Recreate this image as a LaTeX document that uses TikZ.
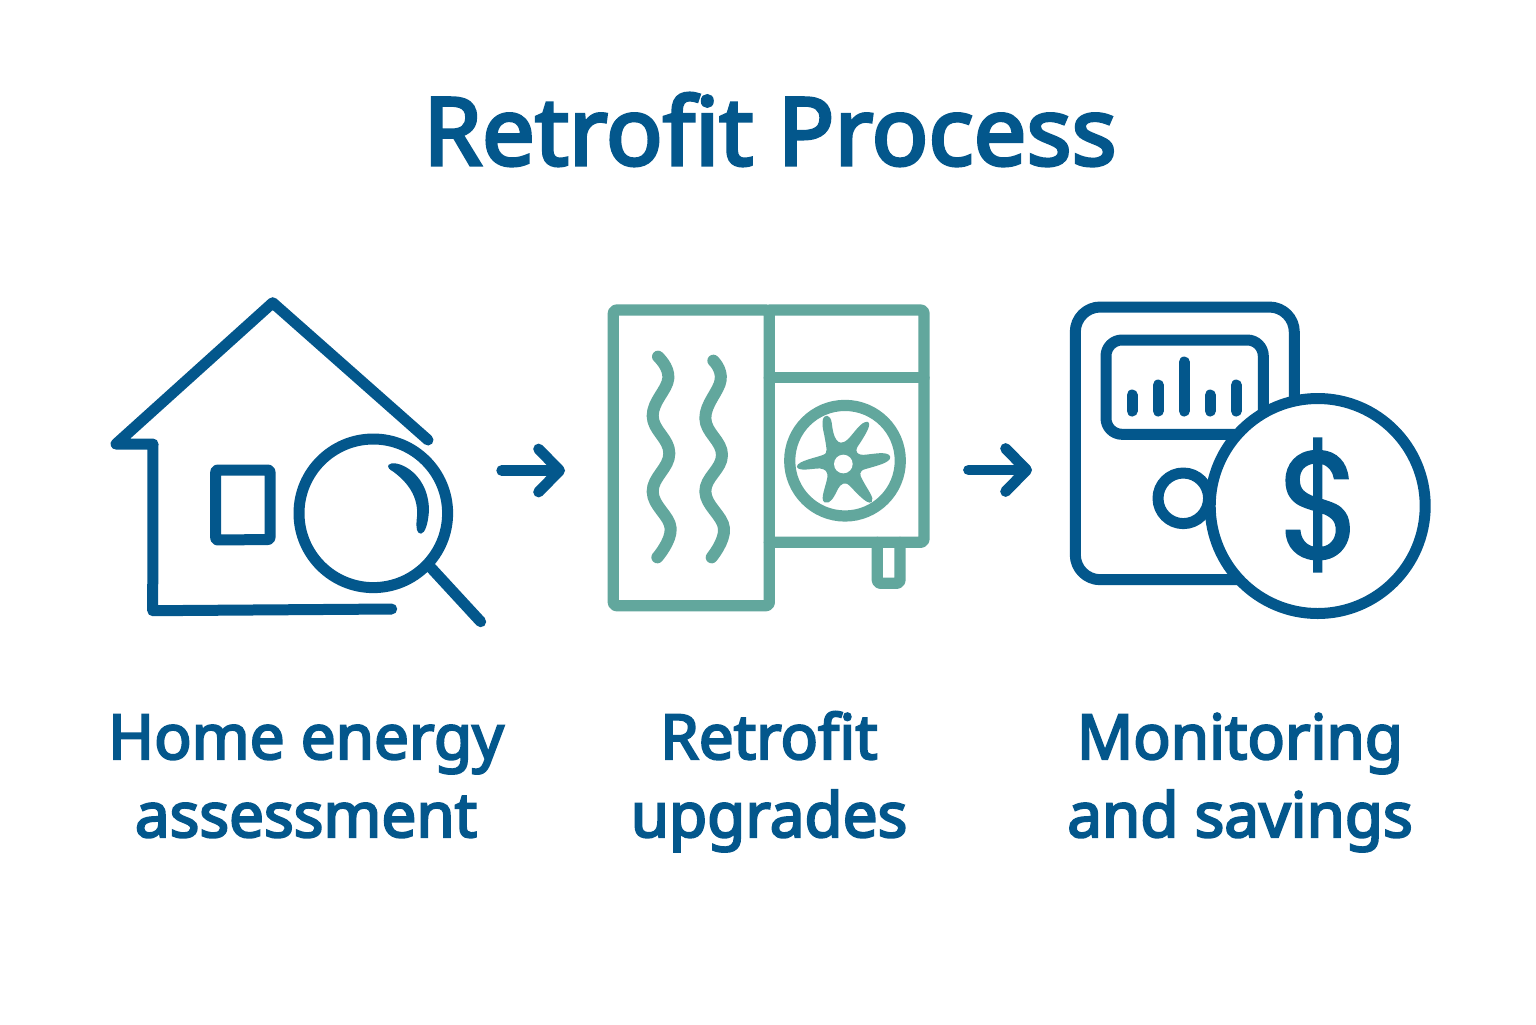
\documentclass[tikz,border=0pt]{standalone}
\usepackage{fontspec}
\usetikzlibrary{arrows.meta}
\setmainfont[RawFeature={embolden=3.5}]{Noto Sans}
\newfontfamily\dollarfont[RawFeature={embolden=1.5}]{Poppins}
\definecolor{navy}{RGB}{3,87,140}
\definecolor{teal2}{RGB}{98,167,157}
\tikzset{
 px/.style={x=0.5pt,y=-0.5pt},
 blueline/.style={draw=navy,line width=5.5pt,line cap=round,line join=round},
 tealline/.style={draw=teal2,line width=5.6pt,line cap=round,line join=round},
 titletext/.style={text=navy,font=\fontsize{47}{50}\selectfont,anchor=base},
 labeltext/.style={text=navy,font=\fontsize{31}{39}\selectfont,align=center,anchor=base},
 flow/.style={draw=navy,line width=5.4pt,line cap=round,line join=round,-{Straight Barb[round,length=10.5pt,width=21.5pt]}},
}
\begin{document}
\begin{tikzpicture}[px]
\useasboundingbox (0,0) rectangle (1536,1024);
\fill[white] (0,0) rectangle (1536,1024);
\node[titletext] (title) at (770,165) {Retrofit Process};
% house
\draw[blueline] (428,440) -- (272.7,302.7) -- (116,444) -- (153,444) -- (152.7,610.7) -- (391.7,609);
\draw[blueline,rounded corners=1pt] (215.7,470) -- (270,470) -- (270,539.5) -- (215.7,540) -- cycle;
\draw[blueline] (430,566.7) -- (480.7,621.7);
\draw[blueline] (373.3,513.3) circle (74.3);
\begin{scope}[shift={(100,290)},scale=1/3]
\fill[navy] (865,525) .. controls (880,505) and (985,540) .. (987,660) .. controls (985,700) and (975,730) .. (963,731) .. controls (950,730) and (948,715) .. (950,690) .. controls (960,620) and (920,575) .. (880,545) .. controls (870,540) and (862,533) .. (865,525) -- cycle;
\end{scope}
% arrows
\coordinate (flowAfrom) at (501.7,470.5);
\coordinate (flowAto) at (565,470.5);
\coordinate (flowBfrom) at (968.5,470);
\coordinate (flowBto) at (1032,470);
\draw[flow] (flowAfrom) -- (flowAto);
\draw[flow] (flowBfrom) -- (flowBto);
% heat pump
\draw[tealline,rounded corners=1.5pt] (613.3,310) -- (769.3,310) -- (769.3,605.7) -- (613.3,605.7) -- cycle;
\draw[tealline,rounded corners=1.5pt] (769.3,310) -- (924,310) -- (924,542.3) -- (769.3,542.3);
\draw[tealline] (769.3,377.7) -- (924,377.7);
\draw[tealline,rounded corners=1.5pt] (877.3,542.3) -- (877.3,583.3) -- (900,583.3) -- (900,542.3);
\draw[tealline] (845,460.7) circle (55.3);
\begin{scope}[shift={(600,290)},scale=1/3]
\draw[tealline,line width=6pt] plot[smooth,tension=0.7] coordinates {(174,200) (205,265) (158,378) (208,490) (158,605) (212,715) (172,802)};
\draw[tealline,line width=6pt] plot[smooth,tension=0.7] coordinates {(340,212) (362,270) (316,385) (366,495) (316,605) (372,715) (335,802)};
\filldraw[fill=teal2,draw=teal2,line width=0.8pt,line join=round] (670,395) .. controls (672,372) and (690,375) .. (693,400)
 .. controls (697,440) and (710,480) .. (745,450)
 .. controls (765,430) and (785,395) .. (803,398)
 .. controls (812,405) and (790,440) .. (770,470)
 .. controls (760,490) and (775,497) .. (790,497)
 .. controls (820,495) and (860,485) .. (868,500)
 .. controls (872,515) and (830,525) .. (795,535)
 .. controls (775,540) and (775,555) .. (785,570)
 .. controls (800,600) and (822,625) .. (813,635)
 .. controls (800,640) and (770,605) .. (750,585)
 .. controls (735,570) and (720,580) .. (712,595)
 .. controls (700,620) and (690,640) .. (675,635)
 .. controls (662,628) and (680,590) .. (685,560)
 .. controls (685,545) and (680,535) .. (660,533)
 .. controls (640,532) and (600,543) .. (593,530)
 .. controls (595,515) and (650,505) .. (670,497)
 .. controls (690,490) and (680,470) .. (678,450)
 .. controls (675,430) and (668,410) .. (670,395) -- cycle;
\fill[white] (730,522) circle (28);
\end{scope}
% meter
\draw[blueline,rounded corners=12.5pt] (1075.3,307) rectangle (1294.3,579.7);
\draw[blueline,rounded corners=8pt] (1106,340) rectangle (1263.3,434.3);
\draw[blueline] (1132,411) -- (1132,395);
\draw[blueline] (1158.3,411) -- (1158.3,385);
\draw[blueline] (1184.3,411) -- (1184.3,362);
\draw[blueline] (1210.3,411) -- (1210.3,395);
\draw[blueline] (1236.3,411) -- (1236.3,385);
\draw[blueline] (1183.3,498.3) circle (25.3);
\draw[blueline,fill=white] (1317.7,506) circle (107.5);
\node[text=navy,font=\dollarfont\fontsize{76}{80}\selectfont] (dollar) at (1320,505) {\scalebox{0.88}[1]{\$}};
% labels
\node[labeltext] (lab1) at (306,837) {Home energy\\assessment};
\node[labeltext] (lab2) at (769,837) {Retrofit\\upgrades};
\node[labeltext] (lab3) at (1240,837) {Monitoring\\and savings};
\end{tikzpicture}
\end{document}
